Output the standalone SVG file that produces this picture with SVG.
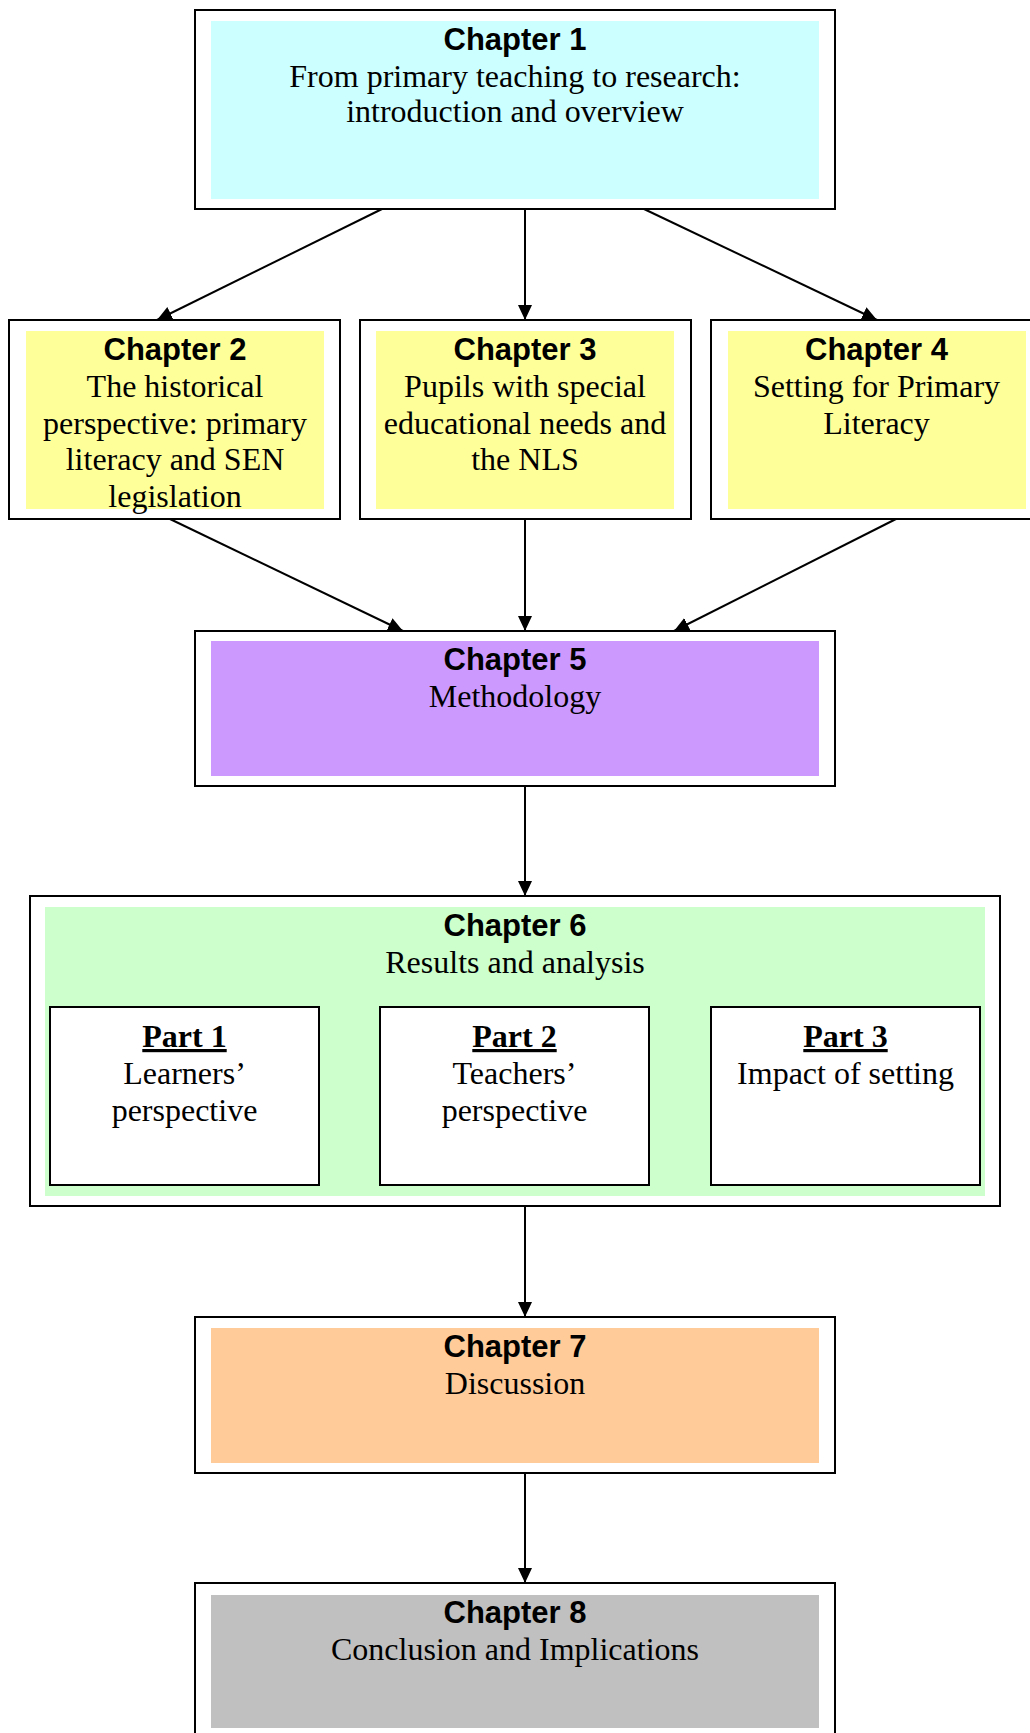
<svg xmlns="http://www.w3.org/2000/svg" width="1030" height="1733" viewBox="0 0 1030 1733">
  <style>
    .frame { fill: #ffffff; stroke: #000000; stroke-width: 2; }
    .part { fill: #ffffff; stroke: #000000; stroke-width: 2; }
    .head { font-family: "Liberation Sans", Arial, sans-serif; font-weight: bold; font-size: 31px; text-anchor: middle; fill: #000; }
    .body { font-family: "Liberation Serif", "Times New Roman", serif; font-size: 32px; text-anchor: middle; fill: #000; }
    .plabel { font-family: "Liberation Serif", "Times New Roman", serif; font-weight: bold; font-size: 32px; text-anchor: middle; text-decoration: underline; fill: #000; }
    .link { stroke: #000000; stroke-width: 2; fill: none; marker-end: url(#arrow); }
  </style>
  <defs>
    <marker id="arrow" viewBox="0 0 15 14" refX="15" refY="7" markerWidth="15" markerHeight="14" markerUnits="userSpaceOnUse" orient="auto">
      <path d="M0,0 L15,7 L0,14 z" fill="#000000"/>
    </marker>
  </defs>
  <rect width="1030" height="1733" fill="#ffffff"/>

  <!-- connectors -->
  <g id="connectors">
    <line class="link" x1="382" y1="209" x2="157" y2="320"/>
    <line class="link" x1="525" y1="209" x2="525" y2="320"/>
    <line class="link" x1="644" y1="209" x2="877" y2="320"/>
    <line class="link" x1="170" y1="519" x2="403" y2="631"/>
    <line class="link" x1="525" y1="519" x2="525" y2="631"/>
    <line class="link" x1="896" y1="519" x2="674" y2="631"/>
    <line class="link" x1="525" y1="786" x2="525" y2="896"/>
    <line class="link" x1="525" y1="1206" x2="525" y2="1317"/>
    <line class="link" x1="525" y1="1473" x2="525" y2="1583"/>
  </g>

  <g id="ch1">
    <rect class="frame" x="195" y="10" width="640" height="199"/>
    <rect x="211" y="21" width="608" height="178" fill="#CCFFFF"/>
    <text class="head" x="515" y="50">Chapter 1</text>
    <text class="body" x="515" y="87">From primary teaching to research:</text>
    <text class="body" x="515" y="122">introduction and overview</text>
  </g>

  <g id="ch2">
    <rect class="frame" x="9" y="320" width="331" height="199"/>
    <rect x="26" y="331" width="298" height="178" fill="#FFFF99"/>
    <text class="head" x="175" y="360">Chapter 2</text>
    <text class="body" x="175" y="397">The historical</text>
    <text class="body" x="175" y="433.5">perspective: primary</text>
    <text class="body" x="175" y="470">literacy and SEN</text>
    <text class="body" x="175" y="506.5">legislation</text>
  </g>

  <g id="ch3">
    <rect class="frame" x="360" y="320" width="331" height="199"/>
    <rect x="376" y="331" width="298" height="178" fill="#FFFF99"/>
    <text class="head" x="525" y="360">Chapter 3</text>
    <text class="body" x="525" y="397">Pupils with special</text>
    <text class="body" x="525" y="433.5">educational needs and</text>
    <text class="body" x="525" y="470">the NLS</text>
  </g>

  <g id="ch4">
    <rect class="frame" x="711" y="320" width="331" height="199"/>
    <rect x="728" y="331" width="298" height="178" fill="#FFFF99"/>
    <text class="head" x="876.5" y="360">Chapter 4</text>
    <text class="body" x="876.5" y="397">Setting for Primary</text>
    <text class="body" x="876.5" y="433.5">Literacy</text>
  </g>

  <g id="ch5">
    <rect class="frame" x="195" y="631" width="640" height="155"/>
    <rect x="211" y="641" width="608" height="135" fill="#CC99FF"/>
    <text class="head" x="515" y="670">Chapter 5</text>
    <text class="body" x="515" y="707">Methodology</text>
  </g>

  <g id="ch6">
    <rect class="frame" x="30" y="896" width="970" height="310"/>
    <rect x="45" y="907" width="940" height="289" fill="#CCFFCC"/>
    <text class="head" x="515" y="936">Chapter 6</text>
    <text class="body" x="515" y="973">Results and analysis</text>
    <g id="part1">
      <rect class="part" x="50" y="1007" width="269" height="178"/>
      <text class="plabel" x="184.5" y="1047">Part 1</text>
      <text class="body" x="184.5" y="1084">Learners’</text>
      <text class="body" x="184.5" y="1120.5">perspective</text>
    </g>
    <g id="part2">
      <rect class="part" x="380" y="1007" width="269" height="178"/>
      <text class="plabel" x="514.5" y="1047">Part 2</text>
      <text class="body" x="514.5" y="1084">Teachers’</text>
      <text class="body" x="514.5" y="1120.5">perspective</text>
    </g>
    <g id="part3">
      <rect class="part" x="711" y="1007" width="269" height="178"/>
      <text class="plabel" x="845.5" y="1047">Part 3</text>
      <text class="body" x="845.5" y="1084">Impact of setting</text>
    </g>
  </g>

  <g id="ch7">
    <rect class="frame" x="195" y="1317" width="640" height="156"/>
    <rect x="211" y="1328" width="608" height="135" fill="#FFCC99"/>
    <text class="head" x="515" y="1357">Chapter 7</text>
    <text class="body" x="515" y="1394">Discussion</text>
  </g>

  <g id="ch8">
    <rect class="frame" x="195" y="1583" width="640" height="156"/>
    <rect x="211" y="1595" width="608" height="133" fill="#C0C0C0"/>
    <text class="head" x="515" y="1623">Chapter 8</text>
    <text class="body" x="515" y="1660">Conclusion and Implications</text>
  </g>
</svg>
